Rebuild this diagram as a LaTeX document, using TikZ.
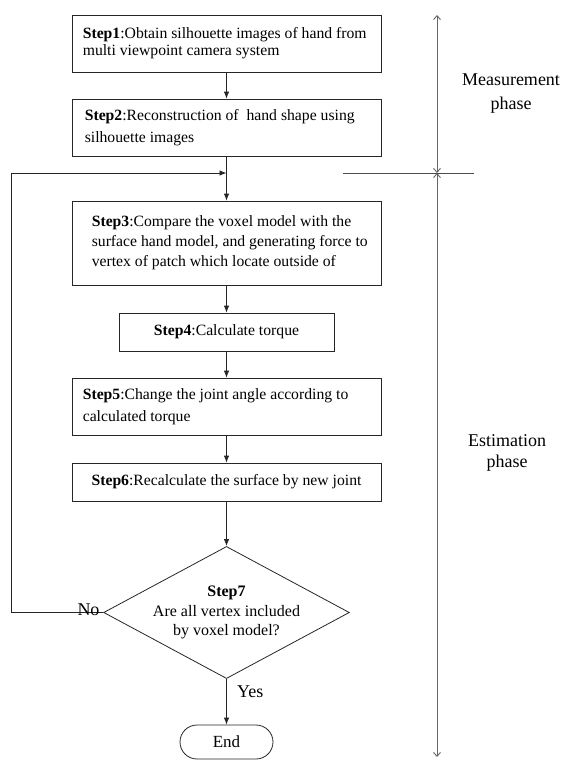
\documentclass[tikz,border=0pt]{standalone}
\usepackage{fontspec}
\setmainfont{Liberation Serif}
\usetikzlibrary{shapes.geometric,arrows.meta}
\begin{document}
\begin{tikzpicture}[x=1pt,y=-1pt,
  stepbox/.style={draw=black!85, line width=0.8pt, rectangle, minimum width=309pt, inner sep=0pt, font=\fontsize{15.7}{17}\selectfont, align=center},
  steptext/.style={anchor=west, inner sep=0pt, align=left, font=\fontsize{15.7}{17}\selectfont},
  arr/.style={draw=black!85, line width=0.8pt, -{Latex[length=7pt,width=5.5pt]}},
  phaseline/.style={draw=black!60, line width=0.9pt, {Straight Barb[length=4pt,width=7pt]}-{Straight Barb[length=4pt,width=7pt]}},
  lbl/.style={font=\fontsize{18}{22}\selectfont, align=center, inner sep=0pt}
]
\useasboundingbox (0,0) rectangle (563,760);
% boxes
\node[stepbox, minimum height=57pt] (b1) at (226.5,43.5) {};
\node[steptext] (b1t) at ([xshift=11pt]b1.west)
  {\textbf{Step1}:Obtain silhouette images of hand from\\multi viewpoint camera system};
\node[stepbox, minimum height=57pt] (b2) at (226.5,127.5) {};
\node[steptext, font=\fontsize{15.7}{22}\selectfont] (b2t) at ([xshift=13pt]b2.west)
  {\textbf{Step2}:Reconstruction of\ \ hand shape using\\silhouette images};
\node[stepbox, minimum height=84pt] (b3) at (226.5,243) {};
\node[steptext, font=\fontsize{15.7}{20}\selectfont] (b3t) at ([xshift=20pt]b3.west)
  {\textbf{Step3}:Compare the voxel model with the\\surface hand model, and generating force to\\vertex of patch which locate outside of};
\node[stepbox, minimum height=38pt, minimum width=215pt] (b4) at (226.5,332)
  {\textbf{Step4}:Calculate torque};
\node[stepbox, minimum height=57pt] (b5) at (226.5,406.5) {};
\node[steptext, font=\fontsize{15.7}{22}\selectfont] (b5t) at ([xshift=11pt]b5.west)
  {\textbf{Step5}:Change the joint angle according to\\calculated torque};
\node[stepbox, minimum height=38pt] (b6) at (226.5,482)
  {\textbf{Step6}:Recalculate the surface by new joint};
\node[draw=black!85, line width=0.8pt, diamond, minimum width=244pt, minimum height=131pt, inner sep=0pt, aspect=1.86, font=\fontsize{16}{19.5}\selectfont, align=center] (d7) at (226.5,612.5)
  {\textbf{Step7}\\Are all vertex included\\by voxel model?};
\node[draw=black!85, line width=0.8pt, rectangle, rounded corners=17pt, minimum width=93pt, minimum height=34pt, font=\fontsize{17}{17}\selectfont] (end) at (226.5,742) {End};

% connectors
\coordinate (join) at (226.5,173);
\coordinate (lc) at (11,173);
\draw[arr] (b1) -- (b2);
\draw[arr] (b2) -- (b3);
\draw[arr] (b3) -- (b4);
\draw[arr] (b4) -- (b5);
\draw[arr] (b5) -- (b6);
\draw[arr] (b6) -- (d7);
\draw[arr] (d7) -- (end);
\draw[arr] (d7.west) -| (lc) -- (join);
\node[lbl, anchor=base] (no) at (88.5,615) {No};
\node[lbl, anchor=west] (yes) at (237,692) {Yes};

% phases
\coordinate (pt) at (437,15);
\coordinate (pm) at (437,173);
\coordinate (pb) at (437,757);
\draw[phaseline] (pt) -- (pm);
\draw[phaseline] (pm) -- (pb);
\coordinate (s1) at (343,173);
\coordinate (s2) at (474,173);
\draw[draw=black!70, line width=0.8pt] (s1) -- (s2);
\node[lbl, font=\fontsize{18}{24}\selectfont] (mp) at (511,94) {Measurement\\phase};
\node[lbl, font=\fontsize{18}{21}\selectfont] (ep) at (507,453) {Estimation\\phase};
\end{tikzpicture}
\end{document}
